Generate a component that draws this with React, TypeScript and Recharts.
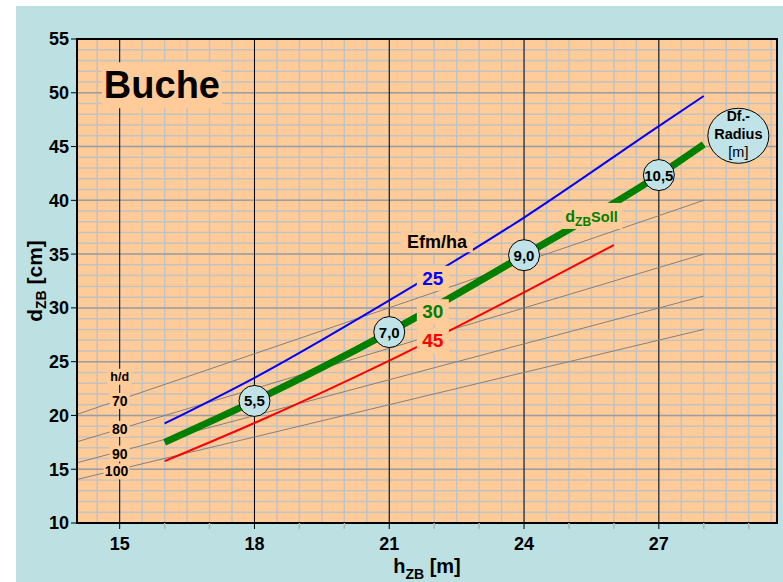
import React from "react";
import {
  ComposedChart,
  Line,
  Scatter,
  XAxis,
  YAxis,
  CartesianGrid,
  ReferenceArea,
} from "recharts";

const FONT = '"Liberation Sans", Arial, Helvetica, sans-serif';
const PEACH = "#ffcc99";
const SKY = "#bde0e3";

// Efm/ha curves
const hBlue = [16, 18, 21, 24, 27, 28];
const dBlue = [19.25, 23.5, 30.7, 38.4, 46.9, 49.7];
const hGreen = [16, 18, 21, 24, 27, 28];
const dGreen = [17.5, 21.35, 27.75, 34.9, 42.35, 45.2];
const hRed = [16, 18, 21, 24, 26];
const dRed = [15.75, 19.3, 25.1, 31.45, 35.85];

// h/d guide lines: value at the left edge and at h = 28
const hdRatios = [70, 80, 90, 100];
const hGuide = [14.05, 28];
const hdStartD = [20.1, 17.55, 15.6, 14.05];
const hdEndD = [40.0, 35.0, 31.1, 28.0];

// crown radius markers sitting on the target curve
const radiusH = [18, 21, 24, 27];
const radiusD = [21.35, 27.75, 34.9, 42.35];
const radiusLabels = ["5,5", "7,0", "9,0", "10,5"];

// axes
const xDomain = [14.05, 29.63];
const yDomain = [10, 55];
const xTicks = [15, 16, 17, 18, 19, 20, 21, 22, 23, 24, 25, 26, 27, 28, 29];
const xLabelled = [15, 18, 21, 24, 27];
const yTicks = [10, 15, 20, 25, 30, 35, 40, 45, 50, 55];

// text annotations (anchored in chart units)
const notes = [
  { id: "title", h: 15.94, d: 50.7, text: "Buche" },
  { id: "unit", h: 22.06, d: 36.1, text: "Efm/ha" },
  { id: "s25", h: 21.97, d: 32.75, text: "25" },
  { id: "s30", h: 21.97, d: 29.65, text: "30" },
  { id: "s45", h: 21.97, d: 26.95, text: "45" },
  { id: "hd", h: 15, d: 23.6, text: "h/d" },
  { id: "hd70", h: 15, d: 21.35, text: String(hdRatios[0]) },
  { id: "hd80", h: 15, d: 18.75, text: String(hdRatios[1]) },
  { id: "hd90", h: 15, d: 16.45, text: String(hdRatios[2]) },
  { id: "hd100", h: 14.93, d: 14.8, text: String(hdRatios[3]) },
];
const sollNote = [{ h: 25.52, d: 38.55 }];
const legendNote = [{ h: 28.77, d: 46.0 }];

const NOTE_STYLE: Record<string, { size: number; color: string; w: number; h: number }> = {
  title: { size: 38, color: "#000", w: 120, h: 46 },
  unit: { size: 18, color: "#000", w: 72, h: 20 },
  s25: { size: 19, color: "#0000ff", w: 32, h: 25 },
  s30: { size: 19, color: "#008000", w: 32, h: 25 },
  s45: { size: 19, color: "#ff0000", w: 32, h: 25 },
  hd: { size: 12.5, color: "#000", w: 24, h: 16 },
  hd70: { size: 14, color: "#000", w: 20, h: 16 },
  hd80: { size: 14, color: "#000", w: 20, h: 16 },
  hd90: { size: 14, color: "#000", w: 20, h: 16 },
  hd100: { size: 14, color: "#000", w: 26, h: 16 },
};

const steps = (a: number, b: number, s: number) =>
  Array.from({ length: Math.round((b - a) / s) + 1 }, (_, i) => +(a + i * s).toFixed(2));

const gridX = steps(14.5, 29.5, 0.5);
const gridY = steps(11, 54, 1);
const gridYMajor = [15, 20, 25, 30, 35, 40, 45, 50];

const pairs = (hs: number[], ds: number[]) => hs.map((h, i) => ({ h, d: ds[i] }));
const blueData = pairs(hBlue, dBlue);
const greenData = pairs(hGreen, dGreen);
const redData = pairs(hRed, dRed);
const guideData = hdRatios.map((_, i) => pairs(hGuide, [hdStartD[i], hdEndD[i]]));
const radiusData = radiusH.map((h, i) => ({ h, d: radiusD[i], label: radiusLabels[i] }));

function NoteShape(props: any) {
  const { cx, cy, payload } = props;
  const s = NOTE_STYLE[payload.id];
  return (
    <g>
      <rect x={cx - s.w / 2} y={cy - s.h / 2} width={s.w} height={s.h} fill={PEACH} />
      <text
        x={cx}
        y={cy}
        textAnchor="middle"
        dominantBaseline="central"
        fontFamily={FONT}
        fontWeight="bold"
        fontSize={s.size}
        fill={s.color}
      >
        {payload.text}
      </text>
    </g>
  );
}

function SollShape(props: any) {
  const { cx, cy } = props;
  return (
    <g>
      <rect x={cx - 30} y={cy - 13} width={60} height={26} fill={PEACH} />
      <text x={cx - 27} y={cy + 6} fontFamily={FONT} fontWeight="bold" fill="#008000" fontSize={16}>
        d
        <tspan fontSize={12} dy={4.5}>ZB</tspan>
        <tspan fontSize={14.5} dy={-4.5}>Soll</tspan>
      </text>
    </g>
  );
}

function RadiusShape(props: any) {
  const { cx, cy, payload } = props;
  return (
    <g>
      <circle cx={cx} cy={cy} r={15.5} fill="#bfe3e6" stroke="#000" strokeWidth={1} />
      <text
        x={cx}
        y={cy}
        textAnchor="middle"
        dominantBaseline="central"
        fontFamily={FONT}
        fontWeight="bold"
        fontSize={15}
        fill="#000"
      >
        {payload.label}
      </text>
    </g>
  );
}

function LegendShape(props: any) {
  const { cx, cy } = props;
  return (
    <g fontFamily={FONT} fill="#000" textAnchor="middle">
      <ellipse cx={cx} cy={cy} rx={30.5} ry={27.5} fill="#bfe3e6" stroke="#000" strokeWidth={1} />
      <text x={cx} y={cy - 15} fontWeight="bold" fontSize={14}>Df.-</text>
      <text x={cx} y={cy + 3.5} fontWeight="bold" fontSize={14.5}>Radius</text>
      <text x={cx} y={cy + 21} fontSize={14.5}>[m]</text>
    </g>
  );
}

function XTick(props: any) {
  const { x, y, payload } = props;
  const major = xLabelled.includes(payload.value);
  return (
    <g>
      <line
        x1={x}
        x2={x}
        y1={y - 14}
        y2={y - 8}
        stroke={major ? "#000" : "#b4b4b4"}
        strokeWidth={major ? 1 : 1.5}
      />
      {major && (
        <text
          x={x}
          y={y}
          dy="0.71em"
          textAnchor="middle"
          fontFamily={FONT}
          fontWeight="bold"
          fontSize={18}
          fill="#000"
        >
          {payload.value}
        </text>
      )}
    </g>
  );
}

function XTitle(props: any) {
  const vb = props.viewBox || {};
  return (
    <text
      x={vb.x + vb.width / 2}
      y={vb.y + 50}
      textAnchor="middle"
      fontFamily={FONT}
      fontWeight="bold"
      fontSize={20}
      fill="#000"
    >
      h<tspan fontSize={14} dy={6}>ZB</tspan>
      <tspan dy={-6}> [m]</tspan>
    </text>
  );
}

function YTitle(props: any) {
  const vb = props.viewBox || {};
  const cx = vb.x + 26;
  const cy = vb.y + vb.height / 2;
  return (
    <text
      transform={`rotate(-90 ${cx} ${cy})`}
      x={cx}
      y={cy}
      textAnchor="middle"
      fontFamily={FONT}
      fontWeight="bold"
      fontSize={21}
      fill="#000"
    >
      d<tspan fontSize={14} dy={4}>ZB</tspan>
      <tspan dy={-4}> [cm]</tspan>
    </text>
  );
}

export default function App() {
  return (
    <div style={{ position: "absolute", left: 0, top: 0, width: 783, height: 582, background: "#fff" }}>
      <div style={{ position: "absolute", left: 16, top: 6, right: 0, bottom: 0, background: SKY }} />
      <div style={{ position: "absolute", left: 0, top: 0 }}>
        <ComposedChart width={783} height={582} margin={{ top: 39, right: 6, bottom: 29, left: 16 }}>
          <CartesianGrid
            fill={PEACH}
            stroke="#c2c2c2"
            strokeWidth={1.5}
            verticalValues={gridX}
            horizontalValues={gridY}
          />
          <CartesianGrid stroke="#9e9e9e" strokeWidth={1.5} vertical={false} horizontalValues={gridYMajor} />
          <CartesianGrid stroke="#000" strokeWidth={1} horizontal={false} verticalValues={xLabelled} />

          <XAxis
            type="number"
            dataKey="h"
            domain={xDomain}
            allowDataOverflow
            ticks={xTicks}
            interval={0}
            height={30}
            tickSize={6}
            tickMargin={8}
            tickLine={false}
            tick={<XTick />}
            axisLine={{ stroke: "#000", strokeWidth: 2 }}
            label={<XTitle />}
          />
          <YAxis
            type="number"
            domain={yDomain}
            allowDataOverflow
            ticks={yTicks}
            interval={0}
            width={61}
            tickSize={6}
            tickMargin={2}
            tickLine={{ stroke: "#000" }}
            axisLine={{ stroke: "#000", strokeWidth: 2 }}
            tick={{ fill: "#000", fontSize: 18, fontWeight: "bold", fontFamily: FONT }}
            label={<YTitle />}
          />

          {guideData.map((g, i) => (
            <Line
              key={`hd-${hdRatios[i]}`}
              data={g}
              dataKey="d"
              stroke="#808080"
              strokeWidth={1}
              dot={false}
              activeDot={false}
              isAnimationActive={false}
            />
          ))}
          <Line
            data={blueData}
            dataKey="d"
            type="monotone"
            stroke="#0000ff"
            strokeWidth={2}
            dot={false}
            activeDot={false}
            isAnimationActive={false}
          />
          <Line
            data={redData}
            dataKey="d"
            type="monotone"
            stroke="#ff0000"
            strokeWidth={2}
            dot={false}
            activeDot={false}
            isAnimationActive={false}
          />
          <Line
            data={greenData}
            dataKey="d"
            type="monotone"
            stroke="#008000"
            strokeWidth={7}
            dot={false}
            activeDot={false}
            isAnimationActive={false}
          />

          <Scatter data={notes} dataKey="d" shape={<NoteShape />} isAnimationActive={false} />
          <Scatter data={sollNote} dataKey="d" shape={<SollShape />} isAnimationActive={false} />
          <Scatter data={radiusData} dataKey="d" shape={<RadiusShape />} isAnimationActive={false} />
          <Scatter data={legendNote} dataKey="d" shape={<LegendShape />} isAnimationActive={false} />

          <ReferenceArea
            x1={xDomain[0]}
            x2={xDomain[1]}
            y1={yDomain[0]}
            y2={yDomain[1]}
            fill="none"
            stroke="#000"
            strokeWidth={2}
            ifOverflow="visible"
          />
        </ComposedChart>
      </div>
    </div>
  );
}
